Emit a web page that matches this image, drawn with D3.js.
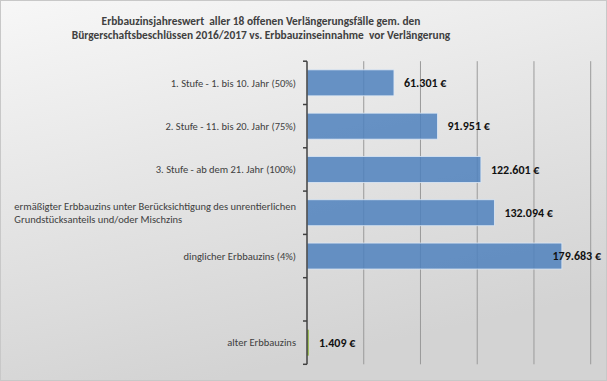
<!DOCTYPE html>
<html>
<head>
<meta charset="utf-8">
<script src="https://cdn.jsdelivr.net/npm/d3@7"></script>
<style>
	html, body { margin: 0; padding: 0; background: #fff; }
	svg { display: block; font-family: Carlito, Calibri, "Liberation Sans Narrow", "Open Sans", sans-serif; }
</style>
</head>
<body>
<svg width="607" height="381"></svg>
<script>
//data
let categories = [
	"1. Stufe - 1. bis 10. Jahr (50%)",
	"2. Stufe - 11. bis 20. Jahr (75%)",
	"3. Stufe - ab dem 21. Jahr (100%)",
	"ermäßigter Erbbauzins unter Berücksichtigung des unrentierlichen|Grundstücksanteils und/oder Mischzins",
	"dinglicher Erbbauzins (4%)",
	"",
	"alter Erbbauzins"
];
let neuValues = [61301, 91951, 122601, 132094, 179683, null, null];
let altValues = [null, null, null, null, null, null, 1409];
let xTicks = [0, 40000, 80000, 120000, 160000, 200000];
let titleLines = [
	"Erbbauzinsjahreswert  aller 18 offenen Verlängerungsfälle gem. den",
	"Bürgerschaftsbeschlüssen 2016/2017 vs. Erbbauzinseinnahme  vor Verlängerung"
];

(()=>{
	let svg = d3.select("svg"),
		width = +svg.attr("width"),
		height = +svg.attr("height");

	let fmt = v => d3.format(",")(v).replace(/,/g, ".") + " €";

	//background gradient
	let defs = svg.append("defs");
	let grad = defs.append("linearGradient")
		.attr("id", "bg")
		.attr("x1", "0").attr("y1", "0").attr("x2", "0.35").attr("y2", "1");
	grad.append("stop").attr("offset", "0").attr("stop-color", "#f7f7f7");
	grad.append("stop").attr("offset", "1").attr("stop-color", "#d3d3d3");

	svg.append("rect")
		.attr("x", 0.5).attr("y", 0.5)
		.attr("width", width - 1).attr("height", height - 1)
		.attr("fill", "url(#bg)")
		.attr("stroke", "#c8c8c8");

	//title
	svg.append("g").selectAll("text").data(titleLines).enter()
		.append("text")
		.attr("x", 261)
		.attr("y", (d, i) => 24.8 + i * 14.3)
		.attr("text-anchor", "middle")
		.style("white-space", "pre")
		.style("font-size", "11.4px")
		.style("font-weight", "bold")
		.style("fill", "#404040")
		.text(d => d);

	let plot = {left: 307, right: 590.7, top: 61.2, bottom: 364.3};

	let x = d3.scaleLinear()
		.domain([0, 200000])
		.range([plot.left, plot.right]);
	let y = d3.scaleBand()
		.domain(d3.range(categories.length))
		.range([plot.top, plot.bottom]);
	let barH = y.step() * 0.6;
	let cy = i => y(i) + y.bandwidth() / 2;

	//gridlines
	svg.append("g").selectAll("line").data(xTicks.slice(1)).enter()
		.append("line")
		.attr("x1", d => x(d)).attr("x2", d => x(d))
		.attr("y1", plot.top).attr("y2", plot.bottom)
		.attr("stroke", "#9a9a9a")
		.attr("stroke-width", 1);

	//bars
	let neu = neuValues.map((v, i) => ({i: i, v: v})).filter(d => d.v != null);
	let alt = altValues.map((v, i) => ({i: i, v: v})).filter(d => d.v != null);

	svg.append("g").selectAll("rect").data(neu).enter()
		.append("rect")
		.attr("x", x(0))
		.attr("y", d => cy(d.i) - barH / 2)
		.attr("width", d => x(d.v) - x(0))
		.attr("height", barH)
		.attr("fill", "rgba(79,129,189,0.85)")
		.attr("stroke", "#dce8f5")
		.attr("stroke-width", 0.8);

	svg.append("g").selectAll("rect").data(alt).enter()
		.append("rect")
		.attr("x", x(0))
		.attr("y", d => cy(d.i) - barH / 2)
		.attr("width", d => x(d.v) - x(0))
		.attr("height", barH)
		.attr("fill", "#9bbb59");

	//value labels
	let labels = svg.append("g").selectAll("text").data(neu.concat(alt)).enter()
		.append("text")
		.attr("y", d => cy(d.i))
		.attr("dy", "0.35em")
		.style("font-size", "12px")
		.style("font-weight", "bold")
		.style("fill", "#111")
		.text(d => fmt(d.v));
	labels.each(function(d){
		let w = this.getComputedTextLength();
		let lx = Math.min(x(d.v) + 10, 601 - w);
		d3.select(this).attr("x", lx);
	});

	//y axis
	let ax = svg.append("g").attr("transform", "translate(" + plot.left + ",0)");
	ax.append("line")
		.attr("x1", 0).attr("x2", 0)
		.attr("y1", plot.top).attr("y2", plot.bottom)
		.attr("stroke", "#404040").attr("stroke-width", 1.5);
	ax.selectAll(".tk").data(d3.range(categories.length + 1)).enter()
		.append("line")
		.attr("x1", -4).attr("x2", 0)
		.attr("y1", d => plot.top + d * y.step())
		.attr("y2", d => plot.top + d * y.step())
		.attr("stroke", "#404040").attr("stroke-width", 1.5);

	//category labels
	let cat = svg.append("g");
	categories.forEach((c, i) => {
		if(!c){ return; }
		let lines = c.split("|");
		let t = cat.append("text")
			.style("font-size", "10.5px")
			.style("fill", "#404040");
		lines.forEach((l, j) => {
			t.append("tspan")
				.attr("y", cy(i) + (j - (lines.length - 1) / 2) * 12.3)
				.attr("dy", "0.35em")
				.text(l);
		});
		//right edge of longest line at 296, lines left aligned
		let maxW = 0;
		t.selectAll("tspan").each(function(){ maxW = Math.max(maxW, this.getComputedTextLength()); });
		t.selectAll("tspan").attr("x", 296 - maxW);
	});
})();
</script>
</body>
</html>
